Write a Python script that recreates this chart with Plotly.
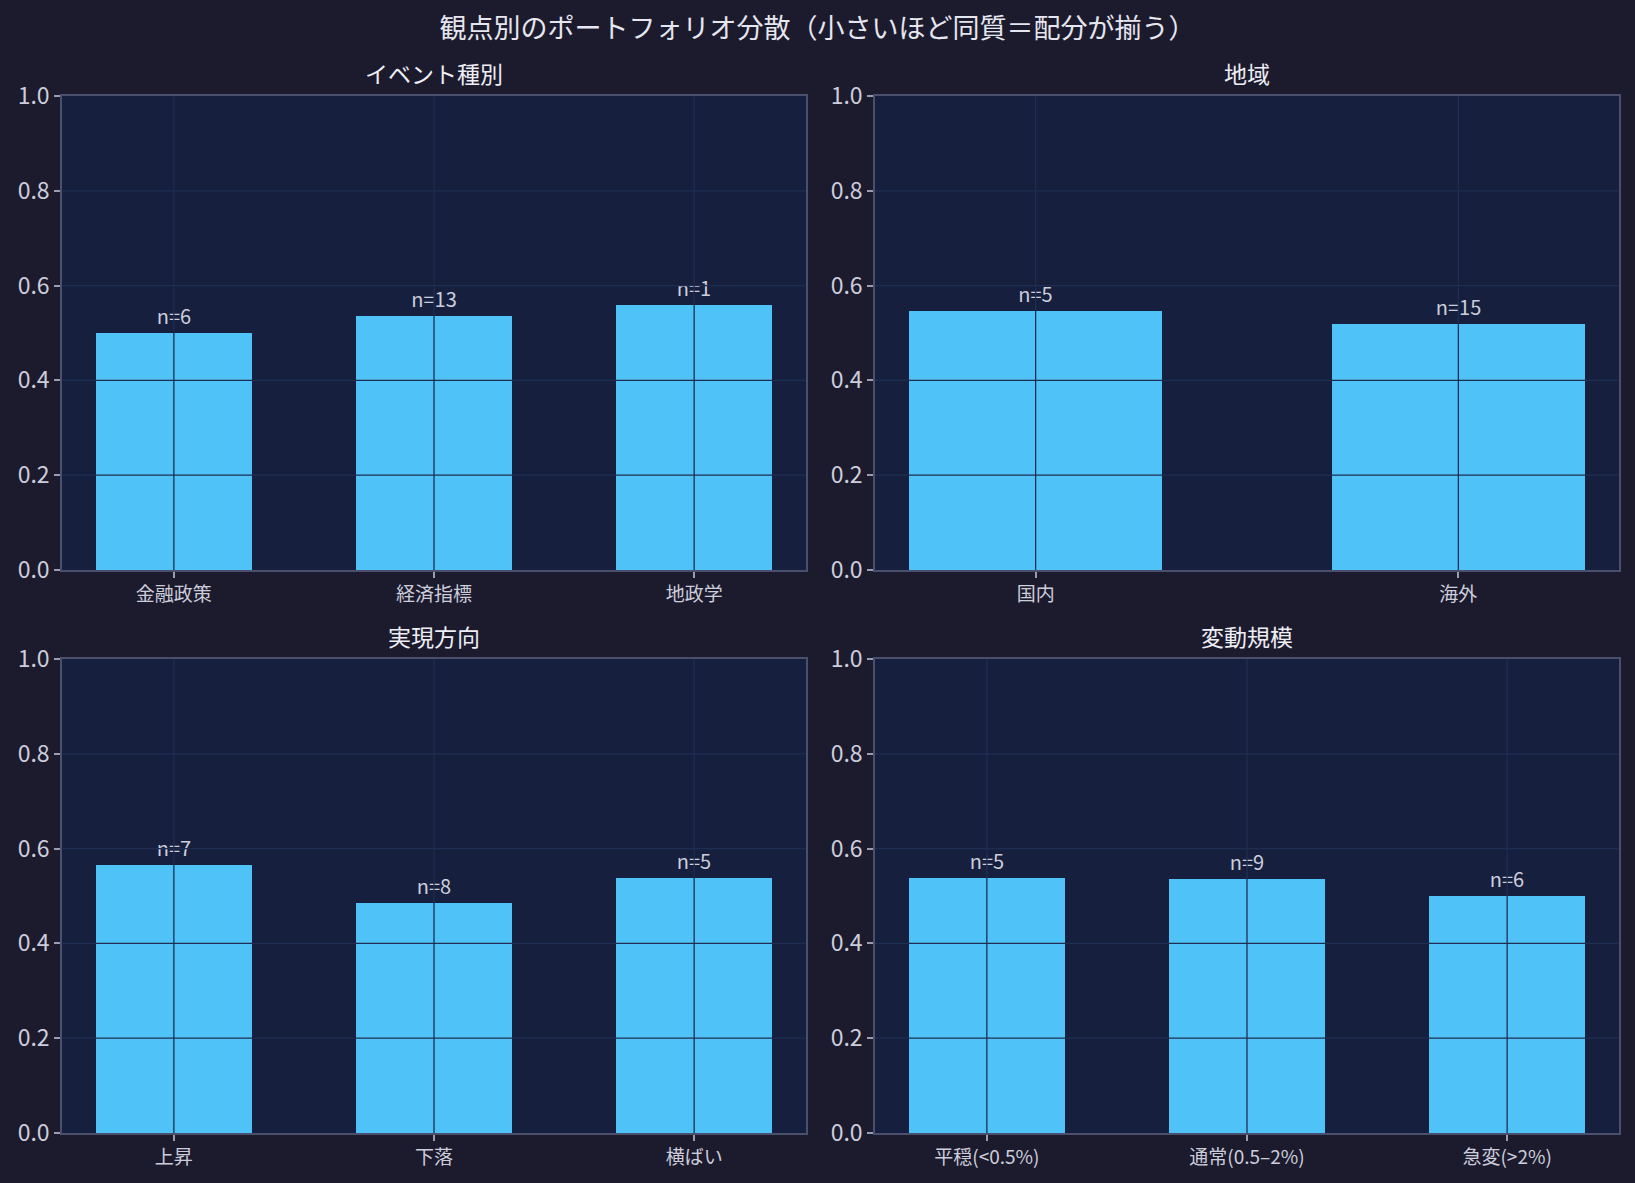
import plotly.graph_objects as go
from plotly.subplots import make_subplots

# 観点別のポートフォリオ分散
event_types = ["金融政策", "経済指標", "地政学"]
event_var = [0.499, 0.536, 0.560]
event_n = [6, 13, 1]

regions = ["国内", "海外"]
region_var = [0.547, 0.519]
region_n = [5, 15]

directions = ["上昇", "下落", "横ばい"]
direction_var = [0.565, 0.486, 0.538]
direction_n = [7, 8, 5]

scales = ["平穏(<0.5%)", "通常(0.5–2%)", "急変(>2%)"]
scale_var = [0.538, 0.536, 0.501]
scale_n = [5, 9, 6]

panel_titles = ["イベント種別", "地域", "実現方向", "変動規模"]
y_ticks = [0.0, 0.2, 0.4, 0.6, 0.8, 1.0]

FONT = "Noto Sans CJK JP, Noto Sans, sans-serif"
PAPER_BG = "#1c1b2e"
PLOT_BG = "#16203e"
BAR_COLOR = "#4fc3f7"
GRID_COLOR = "#1f2d52"
SPINE_COLOR = "#4b4f6e"
TEXT_COLOR = "#cdcedb"

panels = [
    (event_types, event_var, event_n, 1, 1),
    (regions, region_var, region_n, 1, 2),
    (directions, direction_var, direction_n, 2, 1),
    (scales, scale_var, scale_n, 2, 2),
]

fig = make_subplots(
    rows=2, cols=2,
    subplot_titles=panel_titles,
    horizontal_spacing=0.0443,
    vertical_spacing=0.0858,
)

for i, (cats, vals, ns, row, col) in enumerate(panels):
    fig.add_trace(go.Bar(
        x=cats, y=vals,
        text=[f"n={n}" for n in ns],
        textposition="outside",
        textfont=dict(size=20, color=TEXT_COLOR, family=FONT),
        marker=dict(color=BAR_COLOR, line=dict(width=0)),
        width=0.6,
        cliponaxis=False,
        showlegend=False,
    ), row=row, col=col)

    # matplotlib style margins (5%) around the bars
    pad = 0.3 + 0.05 * (len(cats) - 1 + 0.6)
    fig.update_xaxes(range=[-pad, len(cats) - 1 + pad], row=row, col=col)

    # grid drawn above the bars
    ax = "" if i == 0 else str(i + 1)
    for t in y_ticks[1:-1]:
        fig.add_shape(type="line", xref=f"x{ax} domain", yref=f"y{ax}",
                      x0=0, x1=1, y0=t, y1=t, layer="above",
                      line=dict(color=GRID_COLOR, width=1.3))
    for c in cats:
        fig.add_shape(type="line", xref=f"x{ax}", yref=f"y{ax} domain",
                      x0=c, x1=c, y0=0, y1=1, layer="above",
                      line=dict(color=GRID_COLOR, width=1.3))

fig.update_xaxes(
    type="category",
    showgrid=False,
    showline=True, mirror=True, linecolor=SPINE_COLOR, linewidth=1.5,
    ticks="outside", ticklen=6, tickcolor="#9a9cb0", tickwidth=1.5,
    tickfont=dict(size=19, color=TEXT_COLOR, family=FONT),
    zeroline=False,
)
fig.update_yaxes(
    range=[0, 1.0],
    tickvals=y_ticks, ticktext=[f"{t:.1f}" for t in y_ticks],
    showgrid=False,
    showline=True, mirror=True, linecolor=SPINE_COLOR, linewidth=1.5,
    ticks="outside", ticklen=6, tickcolor="#9a9cb0", tickwidth=1.5,
    tickfont=dict(size=23, color=TEXT_COLOR, family=FONT),
    zeroline=False,
)

for ann in fig.layout.annotations:
    ann.font = dict(size=23, color="#eeeef4", family=FONT)
    ann.yshift = 4

fig.update_layout(
    width=1635, height=1183,
    margin=dict(l=62, r=16, t=96, b=50),
    paper_bgcolor=PAPER_BG,
    plot_bgcolor=PLOT_BG,
    bargap=0,
    title=dict(
        text="観点別のポートフォリオ分散（小さいほど同質＝配分が揃う）",
        x=0.5, xanchor="center", y=0.976, yanchor="middle",
        font=dict(size=27, color="#e6e6ee", family=FONT),
    ),
    font=dict(family=FONT, color=TEXT_COLOR),
)

fig.write_html(
    "out.html",
    config={"displayModeBar": False},
    post_script="document.body.style.margin='0';"
                "document.body.style.background='" + PAPER_BG + "';",
)
